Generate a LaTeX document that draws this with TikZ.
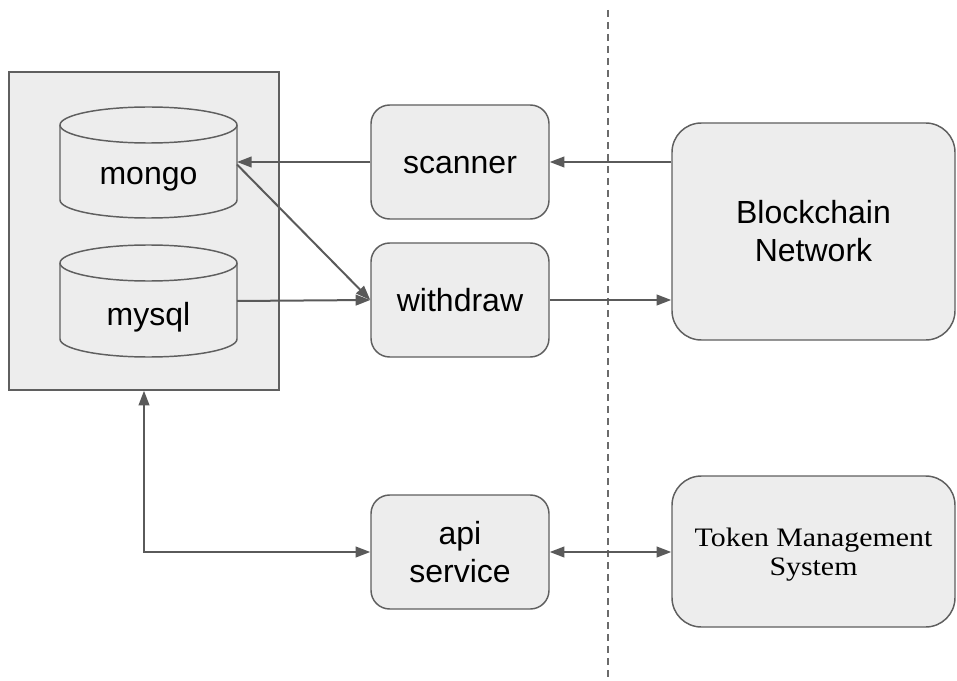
\documentclass[tikz,border=0pt]{standalone}
\usepackage{fontspec}
\setmainfont{Liberation Sans}
\newfontfamily\tmsfont[FakeStretch=1.12]{Liberation Serif}
\usetikzlibrary{arrows.meta,calc}
\definecolor{boxfill}{RGB}{237,237,237}
\definecolor{edgec}{RGB}{95,95,95}
\definecolor{arrowc}{RGB}{90,90,90}
\begin{document}
\begin{tikzpicture}[x=0.75pt,y=-0.75pt,
  pane/.style={draw=edgec,fill=boxfill,line width=1.1pt},
  labelfont/.style={font=\fontsize{24}{28.5}\selectfont},
  procbox/.style={pane,labelfont,rounded corners=14pt,minimum width=133.5pt,minimum height=85.5pt,align=center,inner sep=0pt},
  oneline/.style={text height=17.5pt,text depth=0pt},
  bigbox/.style={pane,rounded corners=22pt,minimum width=212.25pt,align=center,inner sep=0pt},
  anchorbox/.style={inner sep=0pt,outer sep=0pt,minimum width=132.75pt},
  conn/.style={draw=arrowc,line width=1.5pt,-{Triangle[length=11pt,width=8pt]}},
  biconn/.style={draw=arrowc,line width=1.5pt,{Triangle[length=11pt,width=8pt]}-{Triangle[length=11pt,width=8pt]}},
  divider/.style={draw=arrowc!90,line width=0.9pt,dash pattern=on 5.5pt off 3.5pt}
]
\useasboundingbox (0,0) rectangle (957,681);

% divider
\coordinate (dtop) at (608,10);
\coordinate (dbot) at (608,681);
\draw[divider] (dtop) -- (dbot);

% storage container
\node[pane,minimum width=202.5pt,minimum height=238.5pt,inner sep=0pt] (store) at (144,231) {};

% mongo cylinder
\node[anchorbox,minimum height=83.25pt] (mongo) at (148.5,162.5) {};
\draw[pane] (60,125) -- (60,200) arc[start angle=180,end angle=0,x radius=88.5,y radius=18]
  -- (237,125) arc[start angle=0,end angle=-180,x radius=88.5,y radius=18] -- cycle;
\draw[draw=edgec,line width=1.1pt] (60,125) arc[start angle=180,end angle=0,x radius=88.5,y radius=18];
\node[labelfont] (mongotext) at (148.5,179) {mongo};

% mysql cylinder
\node[anchorbox,minimum height=84pt] (mysql) at (148.5,301) {};
\draw[pane] (60,263) -- (60,339) arc[start angle=180,end angle=0,x radius=88.5,y radius=18]
  -- (237,263) arc[start angle=0,end angle=-180,x radius=88.5,y radius=18] -- cycle;
\draw[draw=edgec,line width=1.1pt] (60,263) arc[start angle=180,end angle=0,x radius=88.5,y radius=18];
\node[labelfont] (mysqltext) at (148.5,317) {mysql};

% process boxes
\node[procbox,oneline] (scanner) at (460,162) {scanner};
\node[procbox,oneline] (withdraw) at (460,300) {withdraw};
\node[procbox] (api) at (460,552) {api\\service};

% external systems
\node[bigbox,labelfont,minimum height=162.75pt] (chain) at (813.5,231.5) {Blockchain\\Network};
\node[bigbox,minimum height=113.25pt,text depth=-3pt,font=\tmsfont\fontsize{20}{21.75}\selectfont] (token) at (813.5,551.5) {Token Management\\System};

% connectors
\draw[conn] (scanner.east -| chain.west) -- (scanner.east);
\draw[conn] (scanner.west) -- (scanner.west -| mongo.east);
\draw[conn] ($(mongo.east)+(0,2)$) -- (withdraw.west);
\draw[conn] (mysql.east) -- (withdraw.west);
\draw[conn] (withdraw.east) -- (withdraw.east -| chain.west);
\draw[biconn] (store.south) |- (api.west);
\draw[biconn] (api.east) -- (api.east -| token.west);
\end{tikzpicture}
\end{document}
